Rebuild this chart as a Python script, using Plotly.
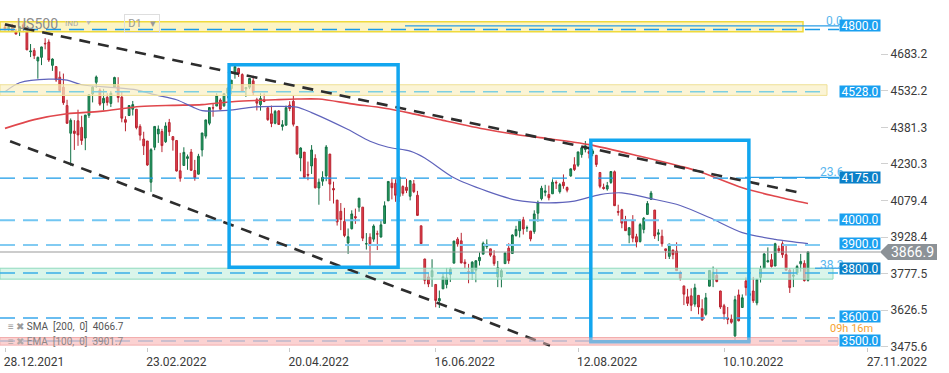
import pandas as pd
import plotly.graph_objects as go

# ---------------- data ----------------
holidays = ['2022-01-17', '2022-02-21', '2022-04-15', '2022-05-30',
            '2022-06-20', '2022-07-04', '2022-09-05']
dates = [d for d in pd.bdate_range('2021-12-28', '2022-11-10')
         if d.strftime('%Y-%m-%d') not in holidays]

opens = (
    [4795, 4788, 4794, 4775] +
    [4778, 4804, 4787, 4693, 4698, 4655, 4670, 4728, 4733, 4637, 4632, 4588, 4547, 4471, 4357, 4366, 4408, 4381, 4337, 4431] +
    [4519, 4567, 4535, 4482, 4505, 4480, 4548, 4553, 4506, 4413, 4430, 4456, 4456, 4385, 4333, 4325, 4155, 4299, 4354] +
    [4364, 4322, 4401, 4343, 4327, 4202, 4224, 4253, 4279, 4203, 4188, 4288, 4345, 4398, 4462, 4469, 4494, 4470, 4522, 4541, 4602, 4624, 4599] +
    [4540, 4547, 4573, 4495, 4475, 4495, 4462, 4437, 4398, 4449, 4385, 4390, 4473, 4489, 4385, 4255, 4279, 4187, 4222, 4253] +
    [4131, 4159, 4181, 4271, 4129, 4081, 4035, 3993, 3904, 3963, 4013, 4052, 4052, 3900, 3928, 3920, 3942, 3929, 3985, 4078, 4151] +
    [4150, 4096, 4137, 4134, 4097, 4148, 4101, 3975, 3838, 3764, 3765, 3733, 3665, 3715, 3733, 3774, 3821, 3920, 3913, 3825, 3786] +
    [3782, 3792, 3831, 3858, 3889, 3880, 3851, 3764, 3764, 3819, 3883, 3861, 3935, 3955, 4000, 3966, 3953, 3951, 4027, 4087] +
    [4113, 4104, 4107, 4154, 4116, 4155, 4133, 4181, 4227, 4225, 4269, 4290, 4281, 4273, 4266, 4195, 4134, 4127, 4154, 4198, 4034, 4041, 4000] +
    [3937, 3995, 3930, 3910, 3960, 4022, 4084, 4040, 3940, 3932, 3880, 3849, 3875, 3871, 3782, 3727, 3682, 3686, 3652, 3688, 3633] +
    [3610, 3726, 3754, 3771, 3706, 3645, 3595, 3590, 3521, 3690, 3638, 3747, 3688, 3706, 3657, 3762, 3799, 3826, 3835, 3809, 3881] +
    [3901, 3856, 3792, 3767, 3780, 3818, 3820, 3750]
)
highs = (
    [4807, 4804, 4808, 4787] +
    [4797, 4819, 4797, 4725, 4708, 4673, 4714, 4749, 4744, 4666, 4632, 4612, 4603, 4495, 4418, 4411, 4454, 4429, 4432, 4517] +
    [4551, 4595, 4542, 4540, 4522, 4531, 4590, 4588, 4527, 4427, 4473, 4490, 4456, 4394, 4363, 4325, 4295, 4385, 4389] +
    [4375, 4402, 4416, 4343, 4327, 4276, 4299, 4269, 4292, 4247, 4272, 4357, 4412, 4465, 4481, 4522, 4501, 4521, 4546, 4576, 4637, 4627, 4604] +
    [4547, 4583, 4594, 4503, 4522, 4521, 4464, 4471, 4453, 4452, 4411, 4471, 4489, 4513, 4385, 4299, 4279, 4240, 4308, 4270] +
    [4170, 4200, 4308, 4271, 4157, 4082, 4069, 4049, 3964, 4039, 4046, 4089, 4052, 3945, 3944, 3981, 3955, 3999, 4076, 4158, 4169] +
    [4167, 4177, 4142, 4169, 4164, 4164, 4119, 3975, 3839, 3779, 3837, 3733, 3708, 3779, 3801, 3802, 3913, 3928, 3946, 3837, 3818] +
    [3829, 3832, 3865, 3910, 3919, 3880, 3874, 3830, 3797, 3864, 3903, 3940, 3975, 3999, 4012, 3976, 3954, 4039, 4079, 4140] +
    [4144, 4141, 4167, 4162, 4152, 4187, 4137, 4211, 4258, 4280, 4301, 4325, 4302, 4293, 4266, 4196, 4149, 4156, 4200, 4203, 4062, 4045, 4016] +
    [3970, 4019, 3942, 3987, 4011, 4077, 4119, 4040, 3961, 3959, 3880, 3900, 3877, 3907, 3790, 3727, 3715, 3717, 3736, 3688, 3672] +
    [3698, 3791, 3807, 3797, 3707, 3653, 3640, 3609, 3686, 3712, 3692, 3762, 3729, 3764, 3757, 3810, 3862, 3886, 3859, 3905, 3893] +
    [3911, 3894, 3800, 3796, 3814, 3859, 3833, 3870]
)
lows = (
    [4780, 4778, 4775, 4765] +
    [4758, 4774, 4700, 4671, 4663, 4582, 4638, 4703, 4651, 4614, 4569, 4530, 4474, 4396, 4223, 4288, 4305, 4309, 4287, 4420] +
    [4484, 4544, 4470, 4451, 4471, 4465, 4548, 4484, 4402, 4365, 4430, 4430, 4373, 4327, 4267, 4222, 4115, 4287, 4317] +
    [4279, 4317, 4346, 4285, 4199, 4157, 4224, 4206, 4201, 4161, 4187, 4261, 4335, 4390, 4425, 4469, 4455, 4466, 4501, 4517, 4582, 4589, 4530] +
    [4507, 4539, 4514, 4451, 4450, 4485, 4408, 4382, 4394, 4391, 4368, 4390, 4448, 4385, 4268, 4200, 4175, 4163, 4189, 4129] +
    [4062, 4140, 4159, 4078, 4067, 3976, 3957, 3928, 3859, 3960, 3983, 4033, 3912, 3877, 3810, 3909, 3875, 3926, 3985, 4078, 4084] +
    [4074, 4074, 4099, 4110, 4080, 4110, 4017, 3900, 3734, 3722, 3723, 3639, 3636, 3715, 3717, 3743, 3821, 3889, 3820, 3799, 3738] +
    [3752, 3742, 3811, 3858, 3880, 3847, 3810, 3722, 3721, 3818, 3818, 3861, 3930, 3927, 3939, 3950, 3911, 3942, 3992, 4080] +
    [4097, 4080, 4107, 4127, 4108, 4128, 4113, 4177, 4201, 4218, 4256, 4278, 4253, 4262, 4218, 4130, 4124, 4120, 4148, 4057, 4017, 3965, 3954] +
    [3903, 3907, 3886, 3906, 3944, 4022, 4083, 3921, 3912, 3889, 3838, 3838, 3837, 3789, 3749, 3648, 3644, 3623, 3641, 3610, 3584] +
    [3604, 3726, 3722, 3742, 3632, 3588, 3569, 3571, 3502, 3581, 3638, 3687, 3667, 3657, 3647, 3741, 3799, 3824, 3803, 3809, 3863] +
    [3843, 3790, 3698, 3722, 3772, 3786, 3745, 3745]
)
closes = (
    [4786, 4793, 4779, 4766] +
    [4797, 4794, 4701, 4696, 4677, 4670, 4713, 4726, 4659, 4663, 4577, 4533, 4483, 4398, 4410, 4356, 4350, 4327, 4432, 4516] +
    [4547, 4589, 4477, 4501, 4484, 4522, 4587, 4504, 4419, 4402, 4471, 4475, 4380, 4349, 4305, 4226, 4289, 4385, 4374] +
    [4306, 4387, 4363, 4329, 4201, 4171, 4278, 4260, 4204, 4173, 4262, 4358, 4412, 4463, 4461, 4512, 4456, 4520, 4543, 4576, 4632, 4602, 4530] +
    [4546, 4583, 4525, 4481, 4500, 4488, 4413, 4397, 4447, 4393, 4392, 4462, 4459, 4394, 4272, 4296, 4175, 4184, 4288, 4132] +
    [4155, 4175, 4300, 4147, 4123, 3991, 4001, 3935, 3930, 4024, 4008, 4089, 3924, 3901, 3901, 3974, 3941, 3979, 4058, 4158, 4132] +
    [4101, 4177, 4109, 4121, 4161, 4116, 4018, 3901, 3750, 3735, 3790, 3667, 3675, 3765, 3760, 3796, 3912, 3900, 3822, 3819, 3785] +
    [3825, 3831, 3845, 3903, 3899, 3854, 3819, 3802, 3790, 3863, 3831, 3937, 3960, 3999, 3962, 3967, 3921, 4024, 4072, 4130] +
    [4119, 4091, 4155, 4152, 4145, 4140, 4122, 4210, 4207, 4280, 4297, 4305, 4274, 4284, 4228, 4138, 4129, 4141, 4199, 4058, 4031, 3986, 3955] +
    [3967, 3924, 3908, 3980, 4006, 4067, 4110, 3933, 3946, 3901, 3873, 3900, 3856, 3790, 3758, 3693, 3655, 3647, 3719, 3640, 3586] +
    [3678, 3791, 3783, 3745, 3640, 3612, 3589, 3577, 3670, 3583, 3678, 3720, 3695, 3666, 3753, 3797, 3859, 3831, 3807, 3901, 3872] +
    [3856, 3792, 3720, 3771, 3807, 3828, 3749, 3867]
)
n = len(dates)
assert len(opens) == len(highs) == len(lows) == len(closes) == n
bars = list(range(n))

# moving averages (bar number, value)
sma_bar = [0, 8, 17, 26, 37, 46, 54, 63, 74, 80, 86, 95, 104, 111, 120, 132, 140, 148, 160, 174, 185, 190, 202, 211, 220]
sma_val = [4377, 4413, 4437, 4447, 4467, 4472, 4475, 4488, 4495, 4498, 4498, 4478, 4460, 4440, 4410, 4372, 4352, 4336,
           4310, 4262, 4221, 4200, 4132, 4097, 4066.7]
ema_bar = [0, 4, 12, 17, 21, 30, 36, 41, 47, 52, 54, 61, 68, 74, 80, 84, 94, 100, 105, 111, 115, 123, 132, 140, 148,
           156, 163, 169, 177, 185, 193, 202, 211, 220]
ema_val = [4528, 4565, 4580, 4576, 4557, 4545, 4536, 4516, 4495, 4461, 4450, 4451, 4465, 4468, 4465, 4442, 4372, 4324,
           4299, 4283, 4255, 4173, 4118, 4081, 4070, 4077, 4104, 4111, 4087, 4059, 4009, 3947, 3919, 3901.7]
sma_last, ema_last = 4066.7, 3901.7
last_price = 3866.9

# axis ticks
x_tick_bars = [0, 39, 78, 118, 157, 197]
future_tick_bar, future_tick_label = 236.4, '27.11.2022'
y_ticks = [3475.6, 3626.5, 3777.5, 3928.4, 4079.4, 4230.3, 4381.3, 4532.2, 4683.2]

# drawings: trend lines (bar, price), boxes (bar0, bar1, price0, price1)
trend_upper = [(0, 4806), (217.3, 4113)]
trend_lower = [(1.4, 4324), (149.3, 3481)]
boxes = [(61.4, 107.7, 3804, 4639), (160.5, 203.8, 3497, 4328)]
zones = [(4776, 4817), (4513, 4557), (3755, 3800), (3483, 3514)]
levels = [4785, 4528, 4172, 3998, 3896, 3780, 3595, 3500]
label_prices = [4800.0, 4528.0, 4175.0, 4000.0, 3900.0, 3800.0, 3600.0, 3500.0]
fib_levels = [(0.0, 4800), (23.6, 4175), (38.2, 3800)]

# ---------------- styles ----------------
PW, PH = 880.0, 347.0        # plot area in px
def px(v):
    return v / PW
def py(v):
    return 1 - v / PH

FONT = 'Roboto, sans-serif'
zone_style = [
    dict(fill='rgba(250,238,160,0.62)', line='#f0da3c', w=1.5, end=803),
    dict(fill='rgba(250,240,195,0.70)', line='#efe096', w=1, end=827),
    dict(fill='rgba(196,240,222,0.65)', line='#8fdabd', w=1, end=833),
    dict(fill='rgba(250,196,196,0.62)', line='#f0a4a4', w=1, end=838),
]
level_style = [
    dict(c='#1a9be8', w=1.5, end=839), dict(c='#7ccfe2', w=1.5, end=828),
    dict(c='#1a9be8', w=1.2, end=839), dict(c='#72c6f2', w=2, end=838),
    dict(c='#82cbf2', w=2, end=827), dict(c='#3aaee8', w=1.5, end=838),
    dict(c='#3aa8ec', w=1.5, end=835), dict(c='#a6b6d2', w=2, end=838),
]
label_fill = ['#1aa0f0', '#1aa0f0', '#0b80c8', '#1aa0f0', '#1aa0f0', '#0b80c8', '#1aa0f0', '#1aa0f0']
fib_style = [dict(start=405, ty=21.5, tx=834), dict(start=745, ty=171.5, tx=832), dict(start=815, ty=265, tx=832)]

fig = go.Figure()
fig.add_trace(go.Candlestick(
    x=bars, open=opens, high=highs, low=lows, close=closes,
    increasing=dict(line=dict(color='#137045', width=1), fillcolor='#27a262'),
    decreasing=dict(line=dict(color='#b82430', width=1), fillcolor='#e5404e'),
    whiskerwidth=0, showlegend=False, hoverinfo='skip'))
fig.add_trace(go.Scatter(x=sma_bar, y=sma_val, mode='lines', showlegend=False, hoverinfo='skip',
                         line=dict(color='#e0474c', width=1.6, shape='spline', smoothing=0.8)))
fig.add_trace(go.Scatter(x=ema_bar, y=ema_val, mode='lines', showlegend=False, hoverinfo='skip',
                         line=dict(color='#5f63bb', width=1.2, shape='spline', smoothing=0.8)))

shapes = []
for (lo, hi), st in zip(zones, zone_style):
    shapes.append(dict(type='rect', xref='paper', yref='y', x0=0, x1=px(st['end']), y0=lo, y1=hi,
                       fillcolor=st['fill'], line=dict(color=st['line'], width=st['w']), layer='above'))
for lv, st in zip(levels, level_style):
    shapes.append(dict(type='line', xref='paper', yref='y', x0=0, x1=px(st['end']), y0=lv, y1=lv,
                       line=dict(color=st['c'], width=st['w'], dash='15px,8px'), layer='above'))
for (pct, lv), st in zip(fib_levels, fib_style):
    shapes.append(dict(type='line', xref='paper', yref='y', x0=px(st['start']), x1=px(839), y0=lv, y1=lv,
                       line=dict(color='#2a9de6', width=1.2), layer='above'))
shapes.append(dict(type='line', xref='paper', yref='y', x0=0, x1=1, y0=last_price, y1=last_price,
                   line=dict(color='#9a9a9a', width=1.2), layer='above'))
for (a, b) in [trend_upper, trend_lower]:
    shapes.append(dict(type='line', xref='x', yref='y', x0=a[0], y0=a[1], x1=b[0], y1=b[1],
                       line=dict(color='#2d2d2d', width=2.6, dash='11px,8px'), layer='above'))
for (b0, b1, p0, p1) in boxes:
    shapes.append(dict(type='rect', xref='x', yref='y', x0=b0, x1=b1, y0=p0, y1=p1,
                       line=dict(color='#12a6ef', width=3.5), fillcolor='rgba(0,0,0,0)', layer='above'))
# pink zone again on top so the box bottom looks greyish like the original
lo, hi = zones[3]
shapes.append(dict(type='rect', xref='paper', yref='y', x0=0, x1=px(838), y0=lo, y1=hi,
                   fillcolor='rgba(250,200,200,0.45)', line=dict(width=0), layer='above'))
# current price tag
d = 33
shapes.append(dict(type='path', xref='paper', yref='y', layer='above',
                   path=f'M 1.0,{last_price} L {px(888)},{last_price + d} L {px(937)},{last_price + d} '
                        f'L {px(937)},{last_price - d} L {px(888)},{last_price - d} Z',
                   fillcolor='#8c9297', line=dict(width=0)))

C = dict(xanchor='center', yanchor='middle', showarrow=False)
ann = []
for (pct, lv), st in zip(fib_levels, fib_style):
    ann.append(dict(xref='paper', yref='paper', x=px(st['tx']), y=py(st['ty']), text=f'{pct:.1f}',
                    font=dict(family=FONT, size=12, color='#5ab6ee'), **C))
ann.append(dict(xref='paper', yref='paper', x=px(851), y=py(328), text='09h 16m',
                font=dict(family=FONT, size=11, color='#f5a232'), **C))
for p, c in zip(label_prices, label_fill):
    ann.append(dict(xref='paper', yref='y', x=px(859.5), y=p, text=f'{p:.1f}',
                    font=dict(family=FONT, size=12, color='white'), bgcolor=c, width=40, height=11,
                    borderpad=0, **C))
ann.append(dict(xref='paper', yref='y', x=px(912), y=last_price, text=f'{last_price:.1f}',
                font=dict(family=FONT, size=14, color='white'), **C))
ann.append(dict(xref='paper', yref='paper', x=px(6), y=py(326), xanchor='left', yanchor='middle', showarrow=False,
                text=f'<span style="color:#9a9a9a">≡ ✖</span> SMA  [200,  0]  {sma_last:.1f}',
                font=dict(family=FONT, size=10, color='#555')))
ann.append(dict(xref='paper', yref='paper', x=px(6), y=py(341), xanchor='left', yanchor='middle', showarrow=False,
                text=f'<span style="color:#b0a8a8">≡ ✖</span> EMA  [100,  0]  {ema_last:.1f}',
                font=dict(family=FONT, size=10, color='#8e8686')))
# header widgets
ann.append(dict(xref='paper', yref='paper', x=px(37), y=py(24), text='US500',
                font=dict(family=FONT, size=14, color='#8c8c8c'), **C))
ann.append(dict(xref='paper', yref='paper', x=px(71), y=py(24), text='IND',
                font=dict(family=FONT, size=8, color='#a8a8a8'), **C))
ann.append(dict(xref='paper', yref='paper', x=px(88), y=py(23), text='▼',
                font=dict(family=FONT, size=7, color='#b8b8b8'), **C))
ann.append(dict(xref='paper', yref='paper', x=px(142), y=py(24), text='D1   ▾',
                font=dict(family=FONT, size=11, color='#9a9a9a'), bordercolor='#dedede', borderwidth=1,
                borderpad=2, width=30, **C))

tickvals = x_tick_bars + [future_tick_bar]
ticktext = [dates[i].strftime('%d.%m.%Y') for i in x_tick_bars] + [future_tick_label]

fig.update_layout(
    width=949, height=373, margin=dict(l=0, r=69, t=0, b=26),
    plot_bgcolor='white', paper_bgcolor='white', showlegend=False,
    shapes=shapes, annotations=ann, font=dict(family=FONT),
    xaxis=dict(range=[-5 / 3.65, -5 / 3.65 + PW / 3.65], showgrid=False, zeroline=False, showline=False,
               tickvals=tickvals, ticktext=ticktext, ticklabelshift=29, ticks='outside', ticklen=4,
               tickcolor='#c8c8c8', tickfont=dict(family=FONT, size=12, color='#3a3a3a'),
               rangeslider=dict(visible=False), fixedrange=True),
    yaxis=dict(range=[3475.0, 4906.6], side='right', showgrid=False, zeroline=False, showline=False,
               tickvals=y_ticks, ticktext=[f'{v:.1f}' for v in y_ticks], ticks='outside', ticklen=7,
               tickcolor='#d0d0d0', tickfont=dict(family=FONT, size=12, color='#3a3a3a'), fixedrange=True),
)
fig.write_html('out.html')
